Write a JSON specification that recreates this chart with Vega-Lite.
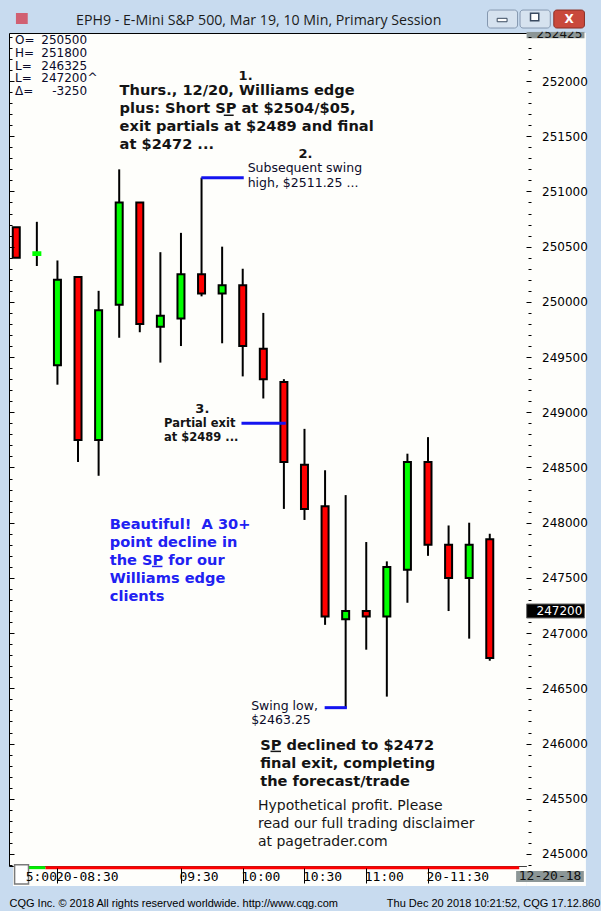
{
  "$schema": "https://vega.github.io/schema/vega-lite/v6.json",
  "width": 522,
  "height": 833,
  "autosize": "none",
  "padding": {"left": 9, "top": 33, "right": 70, "bottom": 45},
  "background": "#c8dbef",
  "config": {
    "view": {"fill": "#fefefb", "stroke": "#000000", "strokeWidth": 1},
    "axis": {"grid": false, "domain": false}
  },
  "title": {
    "text": "EPH9 - E-Mini S&P 500, Mar 19, 10 Min, Primary Session",
    "anchor": "start",
    "frame": "group",
    "dx": 67,
    "dy": 37.5,
    "offset": 8,
    "baseline": "alphabetic",
    "font": "Open Sans",
    "fontSize": 14.2,
    "fontWeight": "normal",
    "color": "#1b1b1b"
  },
  "datasets": {
    "bars": [
      {"bar": 0, "time": "19-15:00", "open": 250675, "high": 250675, "low": 250400, "close": 250400},
      {"bar": 1, "time": "19-15:10", "open": 250425, "high": 250725, "low": 250325, "close": 250450},
      {"bar": 2, "time": "20-08:30", "open": 249425, "high": 250375, "low": 249250, "close": 250200},
      {"bar": 3, "time": "20-08:40", "open": 250225, "high": 250225, "low": 248550, "close": 248750},
      {"bar": 4, "time": "20-08:50", "open": 248750, "high": 250100, "low": 248425, "close": 249925},
      {"bar": 5, "time": "20-09:00", "open": 249975, "high": 251200, "low": 249675, "close": 250900},
      {"bar": 6, "time": "20-09:10", "open": 250900, "high": 250900, "low": 249725, "close": 249800},
      {"bar": 7, "time": "20-09:20", "open": 249775, "high": 250450, "low": 249450, "close": 249875},
      {"bar": 8, "time": "20-09:30", "open": 249850, "high": 250625, "low": 249600, "close": 250250},
      {"bar": 9, "time": "20-09:40", "open": 250250, "high": 251125, "low": 250050, "close": 250075},
      {"bar": 10, "time": "20-09:50", "open": 250075, "high": 250500, "low": 249625, "close": 250150},
      {"bar": 11, "time": "20-10:00", "open": 250150, "high": 250300, "low": 249325, "close": 249600},
      {"bar": 12, "time": "20-10:10", "open": 249575, "high": 249900, "low": 249125, "close": 249300},
      {"bar": 13, "time": "20-10:20", "open": 249275, "high": 249300, "low": 248125, "close": 248550},
      {"bar": 14, "time": "20-10:30", "open": 248525, "high": 248850, "low": 248025, "close": 248125},
      {"bar": 15, "time": "20-10:40", "open": 248150, "high": 248475, "low": 247075, "close": 247150},
      {"bar": 16, "time": "20-10:50", "open": 247125, "high": 248250, "low": 246325, "close": 247200},
      {"bar": 17, "time": "20-11:00", "open": 247200, "high": 247825, "low": 246850, "close": 247150},
      {"bar": 18, "time": "20-11:10", "open": 247150, "high": 247650, "low": 246425, "close": 247600},
      {"bar": 19, "time": "20-11:20", "open": 247575, "high": 248625, "low": 247275, "close": 248550},
      {"bar": 20, "time": "20-11:30", "open": 248550, "high": 248775, "low": 247700, "close": 247800},
      {"bar": 21, "time": "20-11:40", "open": 247800, "high": 247975, "low": 247200, "close": 247500},
      {"bar": 22, "time": "20-11:50", "open": 247500, "high": 248000, "low": 246950, "close": 247800},
      {"bar": 23, "time": "20-12:00", "open": 247850, "high": 247900, "low": 246750, "close": 246775}
    ],
    "session": [
      {"session": "prior", "from": -0.06, "to": 1.42},
      {"session": "current", "from": 1.42, "to": 24.43}
    ],
    "levels": [
      {"note": "swing high", "from": 8.99, "to": 11.05, "price": 251125},
      {"note": "partial exit", "from": 10.94, "to": 13.09, "price": 248900},
      {"note": "swing low", "from": 14.98, "to": 16.06, "price": 246325}
    ],
    "headline": [
      {"bar": 5.02, "price": 251869, "text": "Thurs., 12/20, Williams edge\nplus: Short SP at $2504/$05,\nexit partials at $2489 and final\nat $2472 ..."},
      {"bar": 11.85, "price": 245943, "text": "SP declined to $2472\nfinal exit, completing\nthe forecast/trade"}
    ],
    "underlines": [
      {"note": "headline SP", "from": 10.08, "to": 10.56, "price": 251690, "tone": "dark"},
      {"note": "final SP", "from": 12.35, "to": 12.86, "price": 245929, "tone": "dark"},
      {"note": "blue SP", "from": 6.59, "to": 7.1, "price": 247604, "tone": "blue"}
    ],
    "steps": [
      {"bar": 10.8, "price": 252009, "text": "1."},
      {"bar": 13.71, "price": 251300, "text": "2."},
      {"bar": 8.7, "price": 248996, "text": "3."}
    ],
    "exitNote": [
      {"bar": 7.18, "price": 248867, "text": "Partial exit\nat $2489 ..."}
    ],
    "smallNotes": [
      {"bar": 11.24, "price": 251172, "text": "Subsequent swing\nhigh, $2511.25 ..."},
      {"bar": 11.41, "price": 246308, "text": "Swing low,\n$2463.25"}
    ],
    "blueNote": [
      {"bar": 4.54, "price": 247945, "text": "Beautiful!\u00a0 A 30+\npoint decline in\nthe SP for our\nWilliams edge\nclients"}
    ],
    "disclaimer": [
      {"bar": 11.74, "price": 245395, "text": "Hypothetical profit. Please\nread our full trading disclaimer\nat pagetrader.com"}
    ],
    "infoKeys": [
      {"bar": -0.062, "price": 252333, "text": "O=\nH=\nL=\nL=\n\u0394="},
      {"bar": 3.46, "price": 251988, "text": "^"}
    ],
    "infoValues": [
      {"bar": 3.44, "price": 252333, "text": "250500\n251800\n246325\n247200\n-3250"}
    ],
    "last": [{"price": 247200}]
  },
  "resolve": {"axis": {"x": "independent", "y": "independent"}, "scale": {"color": "independent"}},
  "layer": [
    {
      "data": {"values": [{}]},
      "mark": {"type": "rect", "fill": "#fefefb"},
      "encoding": {
        "x": {"datum": 24.8, "type": "quantitative", "axis": null},
        "x2": {"datum": 27.67},
        "y": {"datum": 244710, "type": "quantitative", "axis": null},
        "y2": {"datum": 252435}
      }
    },
    {
      "data": {"values": [{}]},
      "mark": {"type": "rect", "fill": "#fefefb"},
      "encoding": {
        "x": {"datum": -0.158, "type": "quantitative", "axis": null},
        "x2": {"datum": 24.8},
        "y": {"datum": 244710, "type": "quantitative", "axis": null},
        "y2": {"datum": 244884}
      }
    },
    {
      "data": {"name": "session"},
      "mark": {"type": "rule", "strokeWidth": 3},
      "encoding": {
        "x": {"field": "from", "type": "quantitative", "axis": null},
        "x2": {"field": "to"},
        "y": {"datum": 244876, "type": "quantitative", "axis": null},
        "color": {"field": "session", "type": "nominal", "scale": {"domain": ["prior", "current"], "range": ["#00ee00", "#ff0000"]}, "legend": null}
      }
    },
    {
      "data": {"name": "bars"},
      "mark": {"type": "rule", "strokeWidth": 2, "color": "#000000", "clip": true},
      "encoding": {
        "x": {
          "field": "bar",
          "type": "quantitative",
          "scale": {"domain": [-0.11, 24.76], "nice": false, "zero": false},
          "axis": {
            "orient": "bottom",
            "zindex": 1,
            "values": [0.53, 2, 8, 11, 14, 17, 20],
            "labelExpr": "datum.value < 1 ? '5:00' : datum.value == 2 ? '20-08:30' : datum.value == 8 ? '09:30' : datum.value == 11 ? '10:00' : datum.value == 14 ? '10:30' : datum.value == 17 ? '11:00' : '20-11:30'",
            "offset": 2,
            "tickSize": 15,
            "tickColor": "#000000",
            "tickWidth": 1,
            "tickOpacity": {"condition": {"test": "datum.value < 1", "value": 0}, "value": 1},
            "labelAlign": "left",
            "labelBaseline": "middle",
            "labelOffset": -2,
            "labelPadding": -7,
            "labelFont": "DejaVu Sans Mono",
            "labelFontSize": 13,
            "labelColor": "#000000",
            "labelFlush": false,
            "labelOverlap": false,
            "title": "CQG Inc. \u00a9 2018 All rights reserved worldwide. http://www.cqg.com\u00a0\u00a0\u00a0\u00a0\u00a0\u00a0\u00a0\u00a0\u00a0\u00a0\u00a0\u00a0\u00a0\u00a0\u00a0\u00a0Thu Dec 20 2018 10:21:52, CQG 17.12.860",
            "titleFont": "Liberation Sans",
            "titleFontSize": 11,
            "titleFontWeight": "normal",
            "titleColor": "#000000",
            "titleAnchor": "start",
            "titleAlign": "left",
            "titlePadding": 14,
            "titleLimit": 1000
          }
        },
        "y": {
          "field": "low",
          "type": "quantitative",
          "scale": {"domain": [244891, 252435], "nice": false, "zero": false},
          "axis": {
            "orient": "left",
            "zindex": 1,
            "values": [244900, 245000, 245100, 245200, 245300, 245400, 245500, 245600, 245700, 245800, 245900, 246000, 246100, 246200, 246300, 246400, 246500, 246600, 246700, 246800, 246900, 247000, 247100, 247200, 247300, 247400, 247500, 247600, 247700, 247800, 247900, 248000, 248100, 248200, 248300, 248400, 248500, 248600, 248700, 248800, 248900, 249000, 249100, 249200, 249300, 249400, 249500, 249600, 249700, 249800, 249900, 250000, 250100, 250200, 250300, 250400, 250500, 250600, 250700, 250800, 250900, 251000, 251100, 251200, 251300, 251400, 251500, 251600, 251700, 251800, 251900, 252000, 252100, 252200, 252300, 252400],
            "labels": false,
            "tickSize": {"condition": {"test": "datum.value % 500 === 0", "value": -5}, "value": -3},
            "tickColor": "#000000",
            "tickWidth": 1,
            "title": null
          }
        },
        "y2": {"field": "high"}
      }
    },
    {
      "data": {"name": "bars"},
      "mark": {"type": "bar", "size": 7, "strokeWidth": 2, "clip": true},
      "encoding": {
        "x": {"field": "bar", "type": "quantitative", "scale": {"domain": [-0.11, 24.76], "nice": false, "zero": false}, "axis": null},
        "y": {
          "field": "open",
          "type": "quantitative",
          "scale": {"domain": [244891, 252435], "nice": false, "zero": false},
          "axis": {
            "orient": "right",
            "zindex": 1,
            "values": [244900, 245000, 245100, 245200, 245300, 245400, 245500, 245600, 245700, 245800, 245900, 246000, 246100, 246200, 246300, 246400, 246500, 246600, 246700, 246800, 246900, 247000, 247100, 247200, 247300, 247400, 247500, 247600, 247700, 247800, 247900, 248000, 248100, 248200, 248300, 248400, 248500, 248600, 248700, 248800, 248900, 249000, 249100, 249200, 249300, 249400, 249500, 249600, 249700, 249800, 249900, 250000, 250100, 250200, 250300, 250400, 250500, 250600, 250700, 250800, 250900, 251000, 251100, 251200, 251300, 251400, 251500, 251600, 251700, 251800, 251900, 252000, 252100, 252200, 252300, 252400],
            "labelExpr": "datum.value % 500 === 0 ? datum.value : ''",
            "tickSize": {"condition": {"test": "datum.value % 500 === 0", "value": -5}, "value": -3},
            "tickColor": "#000000",
            "tickWidth": 1,
            "labelPadding": 15.5,
            "labelFont": "DejaVu Sans",
            "labelFontSize": 12,
            "labelColor": "#000000",
            "labelAlign": "left",
            "labelBaseline": "middle",
            "labelOverlap": false,
            "labelFlush": false,
            "title": null
          }
        },
        "y2": {"field": "close"},
        "fill": {"condition": {"test": "datum.close > datum.open", "value": "#00ff00"}, "value": "#ff0000"},
        "stroke": {"condition": {"test": "abs(datum.close - datum.open) < 50", "value": "#00ff00"}, "value": "#000000"},
        "tooltip": [
          {"field": "time", "type": "nominal", "title": "Time"},
          {"field": "open", "type": "quantitative", "title": "Open"},
          {"field": "high", "type": "quantitative", "title": "High"},
          {"field": "low", "type": "quantitative", "title": "Low"},
          {"field": "close", "type": "quantitative", "title": "Close"}
        ]
      }
    },
    {
      "data": {"name": "levels"},
      "mark": {"type": "rule", "strokeWidth": 3, "color": "#1414f0"},
      "encoding": {
        "x": {"field": "from", "type": "quantitative", "axis": null},
        "x2": {"field": "to"},
        "y": {"field": "price", "type": "quantitative", "axis": null}
      }
    },
    {
      "data": {"name": "underlines"},
      "mark": {"type": "rule", "strokeWidth": 1.5},
      "encoding": {
        "x": {"field": "from", "type": "quantitative", "axis": null},
        "x2": {"field": "to"},
        "y": {"field": "price", "type": "quantitative", "axis": null},
        "color": {"field": "tone", "type": "nominal", "scale": {"domain": ["dark", "blue"], "range": ["#141414", "#2121f2"]}, "legend": null}
      }
    },
    {
      "data": {"name": "headline"},
      "mark": {"type": "text", "align": "left", "baseline": "alphabetic", "lineBreak": "\n", "lineHeight": 18, "font": "DejaVu Sans", "fontWeight": "bold", "fontSize": 14.6, "color": "#141414"},
      "encoding": {
        "x": {"field": "bar", "type": "quantitative", "axis": null},
        "y": {"field": "price", "type": "quantitative", "axis": null},
        "text": {"field": "text"}
      }
    },
    {
      "data": {"name": "steps"},
      "mark": {"type": "text", "align": "left", "baseline": "alphabetic", "font": "DejaVu Sans", "fontWeight": "bold", "fontSize": 13, "color": "#141414"},
      "encoding": {
        "x": {"field": "bar", "type": "quantitative", "axis": null},
        "y": {"field": "price", "type": "quantitative", "axis": null},
        "text": {"field": "text"}
      }
    },
    {
      "data": {"name": "exitNote"},
      "mark": {"type": "text", "align": "left", "baseline": "alphabetic", "lineBreak": "\n", "lineHeight": 14, "font": "DejaVu Sans", "fontWeight": "bold", "fontSize": 11.5, "color": "#141414"},
      "encoding": {
        "x": {"field": "bar", "type": "quantitative", "axis": null},
        "y": {"field": "price", "type": "quantitative", "axis": null},
        "text": {"field": "text"}
      }
    },
    {
      "data": {"name": "smallNotes"},
      "mark": {"type": "text", "align": "left", "baseline": "alphabetic", "lineBreak": "\n", "lineHeight": 14.5, "font": "DejaVu Sans", "fontSize": 12.5, "color": "#0c0c2a"},
      "encoding": {
        "x": {"field": "bar", "type": "quantitative", "axis": null},
        "y": {"field": "price", "type": "quantitative", "axis": null},
        "text": {"field": "text"}
      }
    },
    {
      "data": {"name": "blueNote"},
      "mark": {"type": "text", "align": "left", "baseline": "alphabetic", "lineBreak": "\n", "lineHeight": 18, "font": "DejaVu Sans", "fontWeight": "bold", "fontSize": 14.6, "color": "#2121f2"},
      "encoding": {
        "x": {"field": "bar", "type": "quantitative", "axis": null},
        "y": {"field": "price", "type": "quantitative", "axis": null},
        "text": {"field": "text"}
      }
    },
    {
      "data": {"name": "disclaimer"},
      "mark": {"type": "text", "align": "left", "baseline": "alphabetic", "lineBreak": "\n", "lineHeight": 18, "font": "DejaVu Sans", "fontSize": 14, "color": "#161616"},
      "encoding": {
        "x": {"field": "bar", "type": "quantitative", "axis": null},
        "y": {"field": "price", "type": "quantitative", "axis": null},
        "text": {"field": "text"}
      }
    },
    {
      "data": {"name": "infoKeys"},
      "mark": {"type": "text", "align": "left", "baseline": "alphabetic", "lineBreak": "\n", "lineHeight": 12.7, "font": "DejaVu Sans", "fontSize": 12, "color": "#0a0a2a"},
      "encoding": {
        "x": {"field": "bar", "type": "quantitative", "axis": null},
        "y": {"field": "price", "type": "quantitative", "axis": null},
        "text": {"field": "text"}
      }
    },
    {
      "data": {"name": "infoValues"},
      "mark": {"type": "text", "align": "right", "baseline": "alphabetic", "lineBreak": "\n", "lineHeight": 12.7, "font": "DejaVu Sans", "fontSize": 12, "color": "#0a0a2a"},
      "encoding": {
        "x": {"field": "bar", "type": "quantitative", "axis": null},
        "y": {"field": "price", "type": "quantitative", "axis": null},
        "text": {"field": "text"}
      }
    },
    {
      "data": {"values": [{}]},
      "mark": {"type": "rect", "fill": "#000000", "stroke": "#6a6a6a", "strokeWidth": 1},
      "encoding": {
        "x": {"datum": 24.79, "type": "quantitative", "axis": null},
        "x2": {"datum": 27.6},
        "y": {"datum": 247137, "type": "quantitative", "axis": null},
        "y2": {"datum": 247264}
      }
    },
    {
      "data": {"name": "last"},
      "mark": {"type": "text", "align": "left", "baseline": "middle", "font": "DejaVu Sans", "fontSize": 12, "color": "#ffffff"},
      "encoding": {
        "x": {"datum": 25.27, "type": "quantitative", "axis": null},
        "y": {"field": "price", "type": "quantitative", "axis": null},
        "text": {"field": "price", "type": "quantitative", "format": "d"}
      }
    },
    {
      "data": {"values": [{}]},
      "mark": {"type": "rect", "fill": "#8c9696"},
      "encoding": {
        "x": {"datum": 24.79, "type": "quantitative", "axis": null},
        "x2": {"datum": 27.6},
        "y": {"datum": 252387, "type": "quantitative", "axis": null},
        "y2": {"datum": 252447}
      }
    },
    {
      "data": {"values": [{}]},
      "mark": {"type": "text", "text": "252425", "align": "left", "baseline": "alphabetic", "font": "DejaVu Sans", "fontSize": 12, "color": "#111111"},
      "encoding": {
        "x": {"datum": 25.27, "type": "quantitative", "axis": null},
        "y": {"datum": 252394, "type": "quantitative", "axis": null}
      }
    },
    {
      "data": {"values": [{}]},
      "mark": {"type": "rect", "fill": "#c8dbef"},
      "encoding": {
        "x": {"datum": 24.79, "type": "quantitative", "axis": null},
        "x2": {"datum": 27.6},
        "y": {"datum": 252447, "type": "quantitative", "axis": null},
        "y2": {"datum": 252478}
      }
    },
    {
      "data": {"values": [{}]},
      "mark": {"type": "rect", "fill": "#8c9696"},
      "encoding": {
        "x": {"datum": 24.28, "type": "quantitative", "axis": null},
        "x2": {"datum": 27.57},
        "y": {"datum": 244746, "type": "quantitative", "axis": null},
        "y2": {"datum": 244846}
      }
    },
    {
      "data": {"values": [{}]},
      "mark": {"type": "text", "text": "12-20-18", "align": "center", "baseline": "middle", "font": "DejaVu Sans Mono", "fontSize": 13, "color": "#111111"},
      "encoding": {
        "x": {"datum": 25.93, "type": "quantitative", "axis": null},
        "y": {"datum": 244796, "type": "quantitative", "axis": null}
      }
    },
    {
      "data": {"values": [{}]},
      "mark": {"type": "rect", "fill": "#ffffff", "stroke": "#7a7a7a", "strokeWidth": 1.5},
      "encoding": {
        "x": {"datum": -0.081, "type": "quantitative", "axis": null},
        "x2": {"datum": 0.595},
        "y": {"datum": 244728, "type": "quantitative", "axis": null},
        "y2": {"datum": 244903}
      }
    },
    {
      "data": {"values": [{}]},
      "mark": {"type": "rect", "fill": "#d24a5c", "opacity": 0.85},
      "encoding": {
        "x": {"datum": -0.015, "type": "quantitative", "axis": null},
        "x2": {"datum": 0.557},
        "y": {"datum": 252517, "type": "quantitative", "axis": null},
        "y2": {"datum": 252616}
      }
    },
    {
      "data": {"values": [{}]},
      "mark": {"type": "rect", "fill": "#d6e2ef", "stroke": "#8598b0", "cornerRadius": 3},
      "encoding": {
        "x": {"datum": 22.89, "type": "quantitative", "axis": null},
        "x2": {"datum": 24.35},
        "y": {"datum": 252480, "type": "quantitative", "axis": null},
        "y2": {"datum": 252643}
      }
    },
    {
      "data": {"values": [{}]},
      "mark": {"type": "rect", "fill": "#d6e2ef", "stroke": "#8598b0", "cornerRadius": 3},
      "encoding": {
        "x": {"datum": 24.47, "type": "quantitative", "axis": null},
        "x2": {"datum": 25.94},
        "y": {"datum": 252480, "type": "quantitative", "axis": null},
        "y2": {"datum": 252643}
      }
    },
    {
      "data": {"values": [{}]},
      "mark": {"type": "rect", "fill": "#c9493c", "stroke": "#8a2f25", "cornerRadius": 3},
      "encoding": {
        "x": {"datum": 26.11, "type": "quantitative", "axis": null},
        "x2": {"datum": 27.6},
        "y": {"datum": 252480, "type": "quantitative", "axis": null},
        "y2": {"datum": 252643}
      }
    },
    {
      "data": {"values": [{}]},
      "mark": {"type": "rect", "fill": "#ffffff", "stroke": "#3a4a60", "strokeWidth": 1},
      "encoding": {
        "x": {"datum": 23.36, "type": "quantitative", "axis": null},
        "x2": {"datum": 23.84},
        "y": {"datum": 252537, "type": "quantitative", "axis": null},
        "y2": {"datum": 252568}
      }
    },
    {
      "data": {"values": [{}]},
      "mark": {"type": "rect", "fill": "#ffffff", "stroke": "#3a4a60", "strokeWidth": 1.5},
      "encoding": {
        "x": {"datum": 24.98, "type": "quantitative", "axis": null},
        "x2": {"datum": 25.38},
        "y": {"datum": 252546, "type": "quantitative", "axis": null},
        "y2": {"datum": 252613}
      }
    },
    {
      "data": {"values": [{}]},
      "mark": {"type": "text", "text": "X", "align": "center", "baseline": "middle", "font": "DejaVu Sans", "fontWeight": "bold", "fontSize": 12, "color": "#ffffff"},
      "encoding": {
        "x": {"datum": 26.86, "type": "quantitative", "axis": null},
        "y": {"datum": 252562, "type": "quantitative", "axis": null}
      }
    }
  ]
}
